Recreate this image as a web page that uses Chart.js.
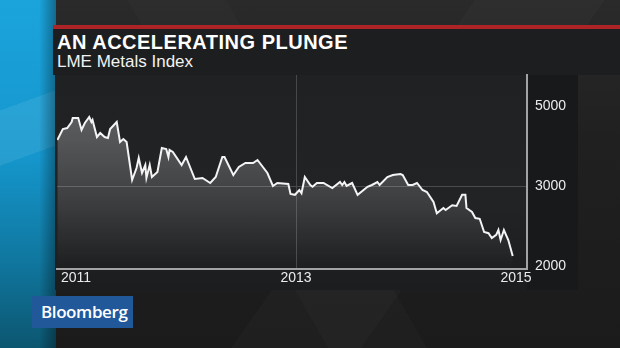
<!DOCTYPE html>
<html>
<head>
<meta charset="utf-8">
<script src="https://cdn.jsdelivr.net/npm/chart.js@4/dist/chart.umd.min.js"></script>
<style>
  html, body { margin: 0; padding: 0; }
  body {
    width: 620px; height: 348px; overflow: hidden; position: relative;
    font-family: "Liberation Sans", Arial, sans-serif;
    background:
      linear-gradient(125deg, rgba(255,255,255,0) 55%, rgba(255,255,255,0.018) 55%, rgba(255,255,255,0.018) 70%, rgba(255,255,255,0) 70%),
      linear-gradient(60deg, rgba(255,255,255,0) 40%, rgba(255,255,255,0.015) 40%, rgba(255,255,255,0.015) 52%, rgba(255,255,255,0) 52%),
      linear-gradient(180deg, #2a2a2a 0%, #202020 40%, #1b1b1b 100%);
  }
  .strip {
    position: absolute; left: 0; top: 0; width: 56px; height: 348px;
    background:
      linear-gradient(90deg, rgba(0,0,0,0) 70%, rgba(0,0,0,0.35) 100%),
      linear-gradient(160deg, rgba(255,255,255,0) 30%, rgba(255,255,255,0.08) 30%, rgba(255,255,255,0.08) 45%, rgba(255,255,255,0) 45%),
      linear-gradient(180deg, #1ba4dc 0%, #1596cc 45%, #10779f 75%, #0c5670 100%);
  }
  .redbar { position: absolute; left: 53px; top: 25px; width: 567px; height: 4px; background: #ad2426; }
  .titlebox { position: absolute; left: 53px; top: 29px; width: 567px; height: 46px; background: #1d1e20; }
  .title { position: absolute; left: 57px; top: 31px; color: #fff; font-weight: bold; font-size: 20px; letter-spacing: 0.5px; white-space: nowrap; }
  .subtitle { position: absolute; left: 57px; top: 52px; color: #f2f2f2; font-size: 17px; white-space: nowrap; }
  .panel { position: absolute; left: 55px; top: 75px; width: 523px; height: 215px; background: linear-gradient(180deg, #1f2123 0%, #222325 60%, #1c1d1f 100%); }
  .axispanel { position: absolute; left: 527px; top: 75px; width: 51px; height: 215px; background: #18191b; }
  .logo { position: absolute; left: 32px; top: 296px; width: 101px; height: 32px; background: #20589a; }
  .logo span { position: absolute; left: 9px; top: 4px; color: #fff; font-family: "Open Sans", sans-serif; font-size: 17px; font-weight: 600; letter-spacing: -0.4px; }
  canvas { position: absolute; left: 0; top: 0; }
</style>
</head>
<body>
<div class="strip"></div>
<div class="redbar"></div>
<div class="titlebox"></div>
<div class="title">AN ACCELERATING PLUNGE</div>
<div class="subtitle">LME Metals Index</div>
<div class="panel"></div>
<div class="axispanel"></div>
<div class="logo"><span>Bloomberg</span></div>
<canvas id="chart" width="620" height="348"></canvas>
<script>
// LME Metals Index (x in decimal years)
var dates = [
  2010.83, 2010.88, 2010.92, 2010.96, 2010.97, 2011.02, 2011.05, 2011.08, 2011.12, 2011.14,
  2011.15, 2011.19, 2011.22, 2011.26, 2011.29, 2011.31, 2011.37, 2011.40, 2011.43, 2011.46,
  2011.51, 2011.55, 2011.57, 2011.60, 2011.63, 2011.64, 2011.67, 2011.69, 2011.74, 2011.78,
  2011.82, 2011.84, 2011.85, 2011.88, 2011.96, 2012.00, 2012.08, 2012.15, 2012.22, 2012.27,
  2012.33, 2012.35, 2012.43, 2012.48, 2012.54, 2012.61, 2012.65, 2012.74, 2012.79, 2012.83,
  2012.93, 2012.95, 2012.99, 2013.03, 2013.05, 2013.08, 2013.13, 2013.15, 2013.19, 2013.25,
  2013.33, 2013.40, 2013.42, 2013.44, 2013.46, 2013.51, 2013.56, 2013.65, 2013.69, 2013.74,
  2013.76, 2013.83, 2013.88, 2013.95, 2013.97, 2014.02, 2014.06, 2014.10, 2014.15, 2014.19,
  2014.25, 2014.28, 2014.34, 2014.36, 2014.42, 2014.46, 2014.51, 2014.54, 2014.55, 2014.60,
  2014.63, 2014.67, 2014.71, 2014.75, 2014.78, 2014.82, 2014.84, 2014.86, 2014.89, 2014.93,
  2014.97
];
var values = [
  4150, 4425, 4450, 4600, 4700, 4700, 4400, 4575, 4725, 4600,
  4650, 4225, 4325, 4225, 4200, 4425, 4600, 4100, 4175, 4100,
  3150, 3450, 3700, 3325, 3525, 3200, 3525, 3225, 3350, 3950,
  3925, 3725, 3900, 3850, 3525, 3725, 3175, 3200, 3075, 3225,
  3725, 3725, 3275, 3475, 3575, 3575, 3650, 3325, 3000, 3075,
  3050, 2900, 2890, 2950, 2910, 3225, 3025, 2990, 3075, 3075,
  2975, 3100, 3025, 3100, 3000, 3075, 2890, 2990, 3025, 3100,
  3025, 3225, 3275, 3300, 3275, 3025, 3025, 3075, 2950, 2925,
  2800, 2660, 2725, 2700, 2760, 2750, 2890, 2890, 2725, 2675,
  2600, 2590, 2425, 2410, 2350, 2390, 2450, 2325, 2450, 2325,
  2125
];
var yearTicks = [2011, 2013, 2015];
var valueTicks = [2000, 3000, 5000];

// y axis: the reference spaces its labels evenly, so map linearly between them
function toT(v) {
  var k = valueTicks;
  var i = 0;
  while (i < k.length - 2 && v > k[i + 1]) i++;
  return i + (v - k[i]) / (k[i + 1] - k[i]);
}
function fromT(t) {
  var k = valueTicks;
  var i = Math.max(0, Math.min(k.length - 2, Math.floor(t)));
  return k[i] + (t - i) * (k[i + 1] - k[i]);
}
class EvenTickScale extends Chart.LinearScale {
  getPixelForValue(value) {
    var a = toT(this.min), b = toT(this.max);
    return this.getPixelForDecimal((toT(value) - a) / (b - a));
  }
  getValueForPixel(pixel) {
    var a = toT(this.min), b = toT(this.max);
    return fromT(a + this.getDecimalForPixel(pixel) * (b - a));
  }
}
EvenTickScale.id = 'eventick';
EvenTickScale.defaults = Chart.LinearScale.defaults;
Chart.register(EvenTickScale);

var points = [];
for (var i = 0; i < dates.length; i++) {
  points.push({ x: dates[i], y: values[i] });
}

var ctx = document.getElementById("chart");

var chart = new Chart(ctx, {
  type: "line",
  data: {
    datasets: [{
      data: points,
      borderColor: "#f4f4f4",
      borderWidth: 2,
      pointRadius: 0,
      tension: 0,
      fill: "start",
      backgroundColor: function (c) {
        var area = c.chart.chartArea;
        if (!area) return "rgba(255,255,255,0.2)";
        var g = c.chart.ctx.createLinearGradient(0, area.top, 0, area.bottom);
        g.addColorStop(0, "rgba(255,255,255,0.34)");
        g.addColorStop(0.5, "rgba(255,255,255,0.18)");
        g.addColorStop(0.8, "rgba(255,255,255,0.07)");
        g.addColorStop(1, "rgba(255,255,255,0.0)");
        return g;
      }
    }]
  },
  options: {
    responsive: false,
    animation: false,
    layout: { padding: { left: 57, top: 75, right: 42, bottom: 58 } },
    plugins: { legend: { display: false }, tooltip: { enabled: false } },
    scales: {
      x: {
        type: "linear",
        min: 2010.827,
        max: 2015.1,
        afterBuildTicks: function (s) { s.ticks = yearTicks.map(function (v) { return { value: v }; }); },
        afterFit: function (s) { s.height = 21; },
        grid: {
          drawTicks: false,
          color: function (c) { return c.tick && c.tick.value === 2013 ? "#47484a" : "rgba(0,0,0,0)"; }
        },
        border: { display: true, color: "#a3a3a3", width: 2 },
        ticks: {
          padding: 1,
          autoSkip: false,
          maxRotation: 0,
          color: "#ececec",
          font: { family: "Liberation Sans", size: 14 },
          callback: function (v) { return String(v); }
        }
      },
      y: {
        type: "eventick",
        position: "right",
        min: 1962.5,
        max: 5775,
        afterBuildTicks: function (s) { s.ticks = valueTicks.map(function (v) { return { value: v }; }); },
        afterFit: function (s) { s.width = 51; },
        grid: {
          drawTicks: false,
          color: function (c) { return c.tick && c.tick.value === 3000 ? "#4a4b4d" : "rgba(0,0,0,0)"; }
        },
        border: { display: true, color: "#a3a3a3", width: 2 },
        ticks: {
          padding: 8,
          autoSkip: false,
          color: "#ececec",
          font: { family: "Liberation Sans", size: 14 },
          callback: function (v) { return String(v); }
        }
      }
    }
  }
});
</script>
</body>
</html>
